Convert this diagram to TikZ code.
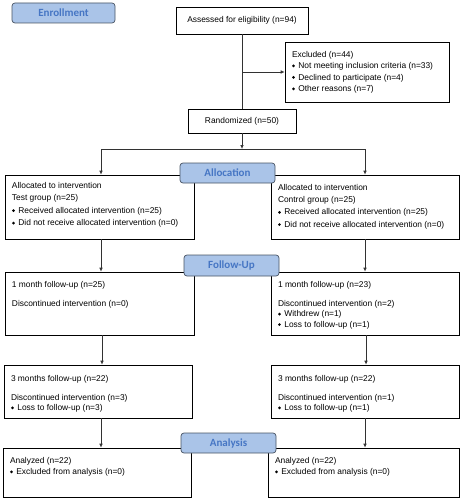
\documentclass[tikz,border=0pt]{standalone}
\usepackage{fontspec}
\setmainfont{Liberation Sans}
\newfontfamily\phasefont{Carlito}
\usetikzlibrary{arrows.meta}
\definecolor{phfill}{RGB}{170,196,232}
\definecolor{phdraw}{RGB}{72,84,100}
\definecolor{phtext}{RGB}{70,118,196}
\definecolor{arrcol}{RGB}{50,50,50}
\newcommand\dm{\raisebox{1.2pt}{\rotatebox{45}{\rule{2.1pt}{2.1pt}}}\hspace{3.4pt}}
% width, height, top gap, baselineskip, content
\newcommand\bxt[5]{\parbox[c][#2][t]{#1}{\fontsize{8.4}{#4}\selectfont\raggedright\vspace*{#3}#5}}
\begin{document}
\begin{tikzpicture}[x=1pt,y=-1pt,
  box/.style={draw=black, line width=0.7pt, fill=white, inner ysep=0pt, inner xsep=7pt},
  cbox/.style={draw=black, line width=0.7pt, fill=white, inner sep=0pt, font=\fontsize{8.4}{10}\selectfont},
  phase/.style={draw=phdraw, line width=0.7pt, fill=phfill, rounded corners=3pt, inner sep=0pt,
    minimum width=95pt, minimum height=20pt, text=phtext, font=\phasefont\bfseries\fontsize{11}{12}\selectfont},
  arr/.style={draw=arrcol, line width=0.7pt, -{Latex[length=4pt,width=3.6pt]}},
  ln/.style={draw=arrcol, line width=0.7pt}]
\useasboundingbox (0,0) rectangle (462,500);

% Enrollment
\node[cbox, minimum width=132pt, minimum height=27pt] (assess) at (242,20.5) {Assessed for eligibility (n=94)};
\node[box] (excl) at (367,72) {\bxt{150pt}{60pt}{9pt}{11.5pt}{Excluded (n=44)\\
\dm Not meeting inclusion criteria (n=33)\\
\dm Declined to participate (n=4)\\
\dm Other reasons (n=7)}};
\node[cbox, minimum width=108pt, minimum height=24pt] (rand) at (242,121) {Randomized (n=50)};

\draw[ln] (assess.south) -- (rand.north);
\coordinate (ex) at (242,72);
\draw[arr] (ex) -- (excl.west);

% Allocation
\coordinate (split) at (242,149);
\coordinate (sl) at (101,149);
\coordinate (sr) at (365,149);
\draw[arr] (rand.south) -- (split);
\draw[ln] (sl) -- (sr);

\node[box] (alL) at (99.5,207) {\bxt{175pt}{64pt}{7.5pt}{12.4pt}{Allocated to intervention\\
Test group (n=25)\\
\dm Received allocated intervention (n=25)\\
\dm Did not receive allocated intervention (n=0)}};
\node[box] (alR) at (365,207) {\bxt{174pt}{64pt}{9.5pt}{12.2pt}{Allocated to intervention\\
Control group (n=25)\\
\dm Received allocated intervention (n=25)\\
\dm Did not receive allocated intervention (n=0)}};
\draw[arr] (sl) -- (sl |- alL.north);
\draw[arr] (sr) -- (sr |- alR.north);

% Follow-up 1 month
\node[box] (fuL) at (99.5,303.5) {\bxt{175pt}{63pt}{9.5pt}{19pt}{1 month follow-up (n=25)\\
Discontinued intervention (n=0)}};
\node[box] (fuR) at (365,303.5) {\bxt{174pt}{63pt}{9.5pt}{10.3pt}{1 month follow-up (n=23)\\[8.7pt]
Discontinued intervention (n=2)\\
\dm Withdrew (n=1)\\
\dm Loss to follow-up (n=1)}};
\draw[arr] (alL.south -| sl) -- (sl |- fuL.north);
\draw[arr] (alR.south -| sr) -- (sr |- fuR.north);

% Follow-up 3 months
\node[box] (tmL) at (98,391.5) {\bxt{174pt}{53pt}{10pt}{10.5pt}{3 months follow-up (n=22)\\[8.5pt]
Discontinued intervention (n=3)\\
\dm Loss to follow-up (n=3)}};
\node[box] (tmR) at (365,391.5) {\bxt{174pt}{53pt}{10pt}{10.5pt}{3 months follow-up (n=22)\\[8.5pt]
Discontinued intervention (n=1)\\
\dm Loss to follow-up (n=1)}};
\coordinate (cl) at (102,0);
\coordinate (cr) at (366,0);
\draw[arr] (fuL.south -| cl) -- (cl |- tmL.north);
\draw[arr] (fuR.south -| cr) -- (cr |- tmR.north);

% Analysis
\node[box] (anL) at (97,472.5) {\bxt{174pt}{49pt}{9.5pt}{11pt}{Analyzed (n=22)\\
\dm Excluded from analysis (n=0)}};
\node[box] (anR) at (363.5,472.5) {\bxt{177pt}{49pt}{9.5pt}{11pt}{Analyzed (n=22)\\
\dm Excluded from analysis (n=0)}};
\draw[arr] (tmL.south -| sl) -- (sl |- anL.north);
\draw[arr] (tmR.south -| sr) -- (sr |- anR.north);

% Phase labels
\node[phase, minimum width=103pt] (penr) at (63.5,13) {Enrollment};
\node[phase] (palloc) at (227.5,173) {Allocation};
\node[phase, minimum height=21pt] (pfu) at (231.5,265.5) {Follow-Up};
\node[phase] (pana) at (228.5,443) {Analysis};
\end{tikzpicture}
\end{document}
